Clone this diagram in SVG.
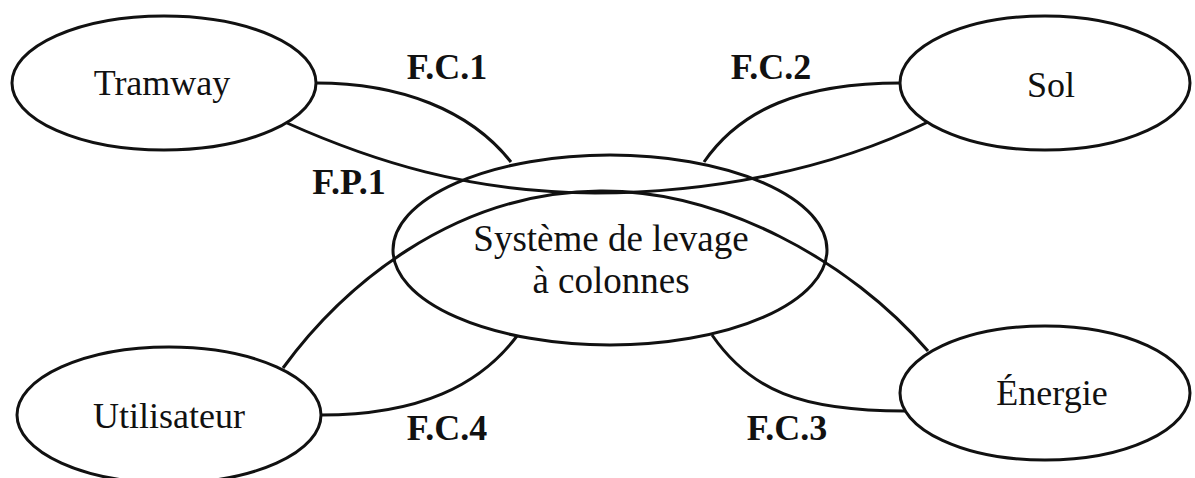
<svg xmlns="http://www.w3.org/2000/svg" width="1195" height="478" viewBox="0 0 1195 478">
<style>
.bg{fill:#fff}
.node{fill:#fff;stroke:#111;stroke-width:3}
.hollow{fill:none;stroke:#111;stroke-width:3}
.edge{fill:none;stroke:#111;stroke-width:3}
.t{font-family:"Liberation Serif","Times New Roman",serif;font-size:36px;fill:#111;text-anchor:middle}
.big{font-size:37px}
.lbl{font-family:"Liberation Serif","Times New Roman",serif;font-size:36px;font-weight:bold;fill:#111;text-anchor:middle}
</style>
<rect class="bg" x="0" y="0" width="1195" height="478"/>
<g id="connectors">
<path class="edge" d="M316,83 C400,83 470,110 511,162"/>
<path class="edge" d="M287,123 C370,160 470,193 595,193 C710,193 830,170 928,122"/>
<path class="edge" d="M704,162 C740,110 800,83 901,83"/>
<path class="edge" d="M283,368 C340,290 450,192 600,191 C720,190 850,260 928,351"/>
<path class="edge" d="M321,415 C420,415 480,385 517,336"/>
<path class="edge" d="M712,335 C750,390 800,411 905,411"/>
<text class="lbl" x="447" y="79">F.C.1</text>
<text class="lbl" x="349" y="194">F.P.1</text>
<text class="lbl" x="771" y="79">F.C.2</text>
<text class="lbl" x="787" y="440">F.C.3</text>
<text class="lbl" x="447" y="440">F.C.4</text>
</g>
<g id="tramway">
<ellipse class="node" cx="164" cy="83" rx="152" ry="67"/>
<text class="t" x="162" y="95">Tramway</text>
</g>
<g id="sol">
<ellipse class="node" cx="1045" cy="83" rx="145" ry="67"/>
<text class="t" x="1051" y="97">Sol</text>
</g>
<g id="systeme">
<ellipse class="hollow" cx="610" cy="250" rx="217" ry="95"/>
<text class="t big" x="611" y="251">Système de levage</text>
<text class="t big" x="611" y="293">à colonnes</text>
</g>
<g id="utilisateur">
<ellipse class="node" cx="169" cy="415" rx="152" ry="68"/>
<text class="t" x="169" y="428">Utilisateur</text>
</g>
<g id="energie">
<ellipse class="node" cx="1045" cy="393" rx="145" ry="67"/>
<text class="t" x="1052" y="405">Énergie</text>
</g>
</svg>
